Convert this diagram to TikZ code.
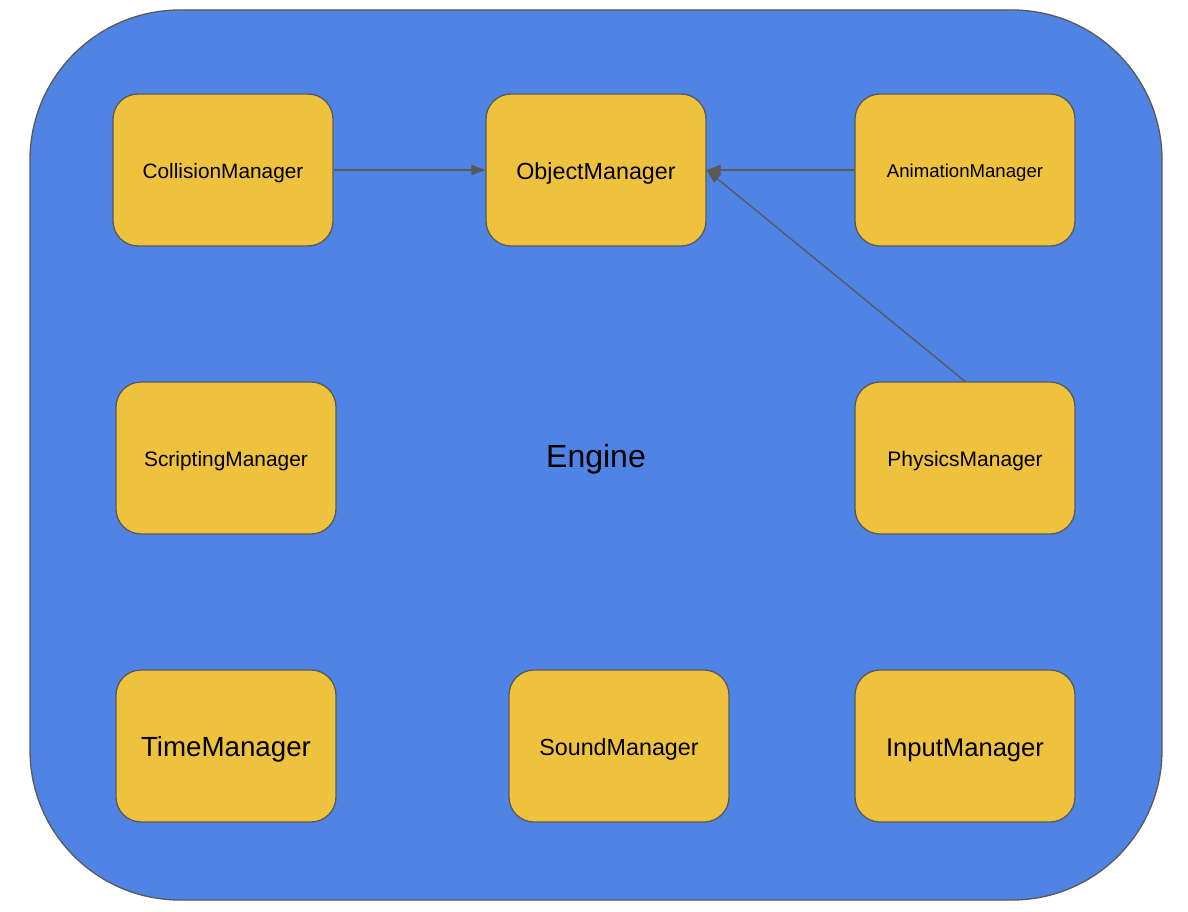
\documentclass[tikz,border=0pt]{standalone}
\usepackage{fontspec}
\setmainfont{Liberation Sans}
\usetikzlibrary{arrows.meta}
\definecolor{engblue}{HTML}{5084E4}
\definecolor{mgryellow}{HTML}{EFC23E}
\definecolor{edgegray}{HTML}{595959}
\begin{document}
\begin{tikzpicture}[x=1pt,y=-1pt,
  mgr/.style={draw=edgegray, line width=1.3pt, fill=mgryellow, rounded corners=25pt,
    minimum width=220pt, minimum height=152pt, inner sep=0pt, text=black, text depth=0pt},
  conn/.style={draw=edgegray, line width=1.3pt, -{Triangle[length=14pt,width=10pt]}}]
\useasboundingbox (0,0) rectangle (1188,912);
\node[draw=edgegray, line width=1.3pt, fill=engblue, rounded corners=150pt,
  minimum width=1132pt, minimum height=890pt, inner sep=0pt] (engine) at (596,455) {};
\node[font=\fontsize{32}{38}\selectfont, text height=20.9pt, text depth=0pt, inner sep=0pt] (englabel) at (596,457) {Engine};
\node[mgr, font=\fontsize{20.8}{25}\selectfont, text height=16.9pt] (coll) at (223,170) {CollisionManager};
\node[mgr, font=\fontsize{23.3}{28}\selectfont, text height=18.7pt] (obj) at (596,170) {ObjectManager};
\node[mgr, font=\fontsize{18.6}{22}\selectfont, text height=15.3pt] (anim) at (965,170) {AnimationManager};
\node[mgr, font=\fontsize{20.9}{25}\selectfont, text height=17pt] (script) at (226,458) {ScriptingManager};
\node[mgr, font=\fontsize{21}{25}\selectfont, text height=17pt] (phys) at (965,458) {PhysicsManager};
\node[mgr, font=\fontsize{27.7}{33}\selectfont, text height=21.6pt] (time) at (226,746) {TimeManager};
\node[mgr, font=\fontsize{23.3}{28}\selectfont, text height=18.7pt] (sound) at (619,746) {SoundManager};
\node[mgr, font=\fontsize{25.6}{31}\selectfont, text height=20.3pt] (input) at (965,746) {InputManager};
\draw[conn] (coll.east) -- (obj.west);
\draw[conn] (anim.west) -- (obj.east);
\draw[conn] (phys.north) -- (obj.east);
\end{tikzpicture}
\end{document}
